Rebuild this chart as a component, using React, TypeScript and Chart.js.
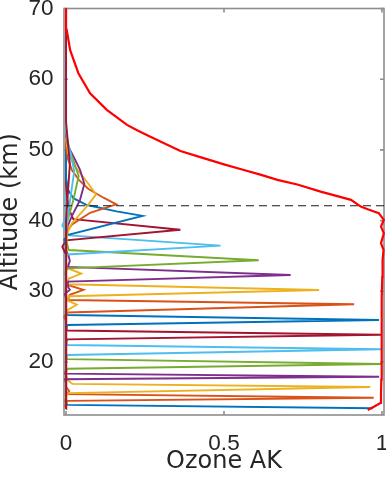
import React, { useEffect, useRef } from "react";
import { Chart, registerables } from "chart.js";

Chart.register(...registerables);

// ---------- axes ----------
const X_MIN = -0.0065;
const X_MAX = 1.0065;
const Y_MIN = 12.5;
const Y_MAX = 70;
const X_TICKS = [0, 0.5, 1];
const X_TICK_LABELS = ["0", "0.5", "1"];
const Y_TICKS = [20, 30, 40, 50, 60, 70];
const Y_TICK_LABELS = ["20", "30", "40", "50", "60", "70"];
const X_TITLE = "Ozone AK";
const Y_TITLE = "Altitude (km)";
const CUTOFF_ALT = 42.1;

const LINE_COLORS = ["#0072BD", "#D95319", "#EDB120", "#7E2F8E", "#77AC30", "#4DBEEE", "#A2142F"];
const TOTAL_COLOR = "#FF0000";
const CUTOFF_COLOR = "#1a1a1a";

// ---------- averaging kernels: [AK, altitude km] ----------
const AK_01 = [[0.972, 13.45], [0.004, 13.93], [-0.004, 14.5], [0, 15.2], [0, 70]];
const AK_02 = [[0, 13.35], [-0.003, 13.9], [0.004, 14.5], [0.974, 14.95], [0.004, 15.45], [0.01, 15.9], [0, 16.5], [0, 70]];
const AK_03 = [[0, 13.35], [-0.003, 15.1], [0.008, 15.6], [0.963, 16.46], [0.02, 16.9], [0.006, 17.4], [0, 18.2], [0, 70]];
const AK_04 = [[0, 13.35], [0, 16.9], [-0.003, 17.55], [0.991, 17.92], [-0.003, 18.35], [0, 19.0], [0, 70]];
const AK_05 = [[0, 13.35], [0, 18.5], [0.003, 19.05], [0.997, 19.72], [0.003, 20.4], [0, 21.0], [0, 70]];
const AK_06 = [[0, 13.35], [0, 20.4], [0.003, 20.99], [0.997, 21.8], [0.003, 22.4], [0, 23.0], [0, 70]];
const AK_07 = [[0, 13.35], [0, 22.6], [0.003, 23.2], [0.997, 23.86], [0.003, 24.45], [0, 25.0], [0, 70]];
const AK_08 = [[0, 13.35], [0, 24.6], [0.004, 25.24], [0.991, 25.94], [0.004, 26.65], [0, 27.3], [0, 70]];
const AK_09 = [[0, 13.35], [0, 25.8], [-0.006, 26.4], [0.004, 27.0], [0.912, 28.16], [0.006, 28.77], [0.012, 29.5], [0.055, 30.2], [0.005, 30.9], [0, 31.6], [0, 70]];
const AK_10 = [[0, 13.35], [0, 26.5], [0.003, 27.3], [0.034, 28.1], [0.004, 28.7], [0.008, 29.3], [0.801, 30.18], [0.006, 31.0], [0.008, 31.8], [0.048, 32.5], [0.003, 33.3], [0, 34.0], [0, 70]];
const AK_11 = [[0, 13.35], [0, 29.0], [-0.004, 29.6], [0.012, 30.2], [0.004, 30.8], [0.006, 31.36], [0.711, 32.3], [0.006, 33.44], [0.012, 34.3], [0.008, 35.0], [0, 35.8], [0, 70]];
const AK_12 = [[0, 13.35], [0, 32.0], [-0.003, 32.6], [0.004, 33.25], [0.61, 34.4], [0.008, 35.84], [0.004, 36.6], [0, 37.5], [0, 70]];
const AK_13 = [[0, 13.35], [0, 34.0], [-0.004, 34.6], [0.004, 35.2], [0.489, 36.46], [0.01, 37.9], [-0.012, 39.3], [0, 40.5], [0, 70]];
const AK_14 = [[0, 13.35], [0, 35.2], [-0.012, 36.3], [0, 37.2], [0.362, 38.7], [0.023, 40.2], [0.01, 41.5], [0.004, 43.0], [0, 45.0], [0, 70]];
const AK_15 = [[0, 13.35], [0, 36.5], [-0.006, 37.3], [0.007, 38.0], [0.242, 40.66], [0.16, 41.3], [0.066, 42.2], [0.023, 43.17], [0.007, 44.3], [0, 46.0], [0, 70]];
const AK_16 = [[0, 13.35], [0, 37.2], [0.002, 38.4], [0.018, 39.4], [0.076, 41.1], [0.159, 42.3], [0.12, 43.2], [0.07, 44.5], [0.04, 45.8], [0.018, 47.2], [0.006, 48.7], [0, 50.5], [0, 70]];
const AK_17 = [[0, 13.35], [0, 36.8], [0.005, 38.3], [0.018, 39.6], [0.066, 42.0], [0.095, 43.7], [0.066, 45.5], [0.029, 47.6], [0.007, 49.5], [0, 51.5], [0, 70]];
const AK_18 = [[0, 13.35], [0, 37.5], [0.003, 39.0], [0.018, 40.6], [0.044, 42.9], [0.058, 45.2], [0.044, 47.2], [0.023, 49.1], [0.007, 50.5], [0, 52.0], [0, 70]];
const AK_19 = [[0, 13.35], [0, 38.0], [0.005, 40.0], [0.023, 42.9], [0.04, 46.3], [0.023, 48.5], [0.007, 50.5], [0, 52.5], [0, 70]];
const AK_20 = [[0, 13.35], [0, 39.0], [0.01, 42.0], [0.026, 47.0], [0.012, 50.0], [0.004, 51.5], [0, 53.0], [0, 70]];
const AK_21 = [[0, 13.35], [0, 40.0], [0.006, 44.0], [0.012, 48.0], [0.006, 51.0], [0, 54.0], [0, 70]];

const KERNELS = [AK_01, AK_02, AK_03, AK_04, AK_05, AK_06, AK_07, AK_08, AK_09, AK_10, AK_11, AK_12, AK_13, AK_14, AK_15, AK_16, AK_17, AK_18, AK_19, AK_20, AK_21];

// ---------- total response (row sum): [AK, altitude km] ----------
const TOTAL_AK = [
  [0.955, 13.2], [0.976, 13.7], [0.995, 14.2], [0.997, 15.5], [0.998, 17.5], [0.999, 20], [0.999, 23], [0.999, 26],
  [1.0, 29], [1.001, 32], [1.002, 34.4], [1.005, 35.85], [0.997, 36.8], [1.006, 38.2], [0.997, 39.15], [1.006, 40.1],
  [0.99, 41.05], [0.955, 41.6], [0.933, 41.98], [0.902, 42.93], [0.806, 44.1], [0.732, 45.1], [0.669, 45.76],
  [0.615, 46.5], [0.56, 47.2], [0.5, 47.95], [0.43, 48.9], [0.362, 49.85], [0.267, 51.87], [0.228, 52.7], [0.193, 53.54],
  [0.129, 55.66], [0.076, 58.0], [0.039, 60.85], [0.013, 64.1], [0.002, 67.0], [0.0, 70],
];

const TICK_FONT = { family: "'Liberation Sans', Arial, sans-serif", size: 22.5, lineHeight: 1.2 };
const TITLE_FONT = { family: "'DejaVu Sans', sans-serif", size: 24, lineHeight: 0.9 };
const TEXT_COLOR = "#262626";
const AXIS_COLOR = "#8e8e8e";

const toPts = (arr: number[][]) => arr.map(([x, y]) => ({ x, y }));

const zeroPad = (s: any) => {
  s.paddingTop = 0;
  s.paddingBottom = 0;
  s.paddingLeft = 0;
  s.paddingRight = 0;
};

const framePlugin = {
  id: "matlabFrame",
  beforeDatasetsDraw(chart: any) {
    const { ctx, chartArea: a, scales } = chart;
    const xs = scales.x;
    const ys = scales.y;
    const tl = 4;
    ctx.save();
    ctx.strokeStyle = AXIS_COLOR;
    ctx.lineWidth = 1.6;
    ctx.strokeRect(a.left, a.top, a.right - a.left, a.bottom - a.top);
    ctx.beginPath();
    xs.ticks.forEach((t: any) => {
      const px = xs.getPixelForValue(t.value);
      ctx.moveTo(px, a.bottom);
      ctx.lineTo(px, a.bottom - tl);
      ctx.moveTo(px, a.top);
      ctx.lineTo(px, a.top + tl);
    });
    ys.ticks.forEach((t: any) => {
      const py = ys.getPixelForValue(t.value);
      ctx.moveTo(a.left, py);
      ctx.lineTo(a.left + tl, py);
      ctx.moveTo(a.right, py);
      ctx.lineTo(a.right - tl, py);
    });
    ctx.stroke();
    ctx.restore();
  },
};

export default function App() {
  const ref = useRef<HTMLCanvasElement | null>(null);

  useEffect(() => {
    document.body.style.margin = "0";
    const canvas = ref.current;
    if (!canvas) return;

    const kernelSets = KERNELS.map((k, i) => ({
      label: `AK ${i + 1}`,
      data: toPts(k),
      borderColor: LINE_COLORS[i % LINE_COLORS.length],
      borderWidth: 1.9,
      showLine: true,
      pointRadius: 0,
      tension: 0,
      clip: 4,
      order: 100 - i,
    }));

    const chart = new Chart(canvas, {
      type: "scatter",
      data: {
        datasets: [
          {
            label: "Total",
            data: toPts(TOTAL_AK),
            borderColor: TOTAL_COLOR,
            borderWidth: 2.2,
            showLine: true,
            pointRadius: 0,
            tension: 0,
            clip: 4,
            order: 0,
          },
          {
            label: "Cutoff",
            data: [{ x: X_MIN, y: CUTOFF_ALT }, { x: X_MAX, y: CUTOFF_ALT }],
            borderColor: CUTOFF_COLOR,
            borderWidth: 1.2,
            borderDash: [8, 5],
            showLine: true,
            pointRadius: 0,
            order: 1,
          },
          ...kernelSets,
        ] as any,
      },
      options: {
        animation: false,
        responsive: false,
        devicePixelRatio: 1,
        layout: { autoPadding: false, padding: { top: 8.5, right: 2, left: 0, bottom: 0 } },
        plugins: { legend: { display: false }, tooltip: { enabled: false } },
        scales: {
          x: {
            type: "linear",
            min: X_MIN,
            max: X_MAX,
            grid: { display: false, drawTicks: false },
            border: { display: false },
            afterBuildTicks: (s: any) => {
              s.ticks = X_TICKS.map((v) => ({ value: v }));
            },
            afterFit: (s: any) => {
              s.height = 69;
              zeroPad(s);
            },
            ticks: {
              color: TEXT_COLOR,
              font: TICK_FONT,
              padding: 15.7,
              maxRotation: 0,
              autoSkip: false,
              callback: (v: any) => {
                const i = X_TICKS.indexOf(Number(v));
                return i >= 0 ? X_TICK_LABELS[i] : "";
              },
            },
            title: {
              display: true,
              text: X_TITLE,
              color: TEXT_COLOR,
              font: TITLE_FONT,
              padding: { top: 0, bottom: 11.5 },
            },
          },
          y: {
            type: "linear",
            min: Y_MIN,
            max: Y_MAX,
            grid: { display: false, drawTicks: false },
            border: { display: false },
            afterBuildTicks: (s: any) => {
              s.ticks = Y_TICKS.map((v) => ({ value: v }));
            },
            afterFit: (s: any) => {
              s.width = 64;
              zeroPad(s);
            },
            ticks: {
              color: TEXT_COLOR,
              font: TICK_FONT,
              padding: 10.5,
              autoSkip: false,
              callback: (v: any) => {
                const i = Y_TICKS.indexOf(Number(v));
                return i >= 0 ? Y_TICK_LABELS[i] : "";
              },
            },
            title: {
              display: true,
              text: Y_TITLE,
              color: TEXT_COLOR,
              font: TITLE_FONT,
              padding: { top: 0, bottom: 0 },
            },
          },
        },
      } as any,
      plugins: [framePlugin],
    });

    return () => chart.destroy();
  }, []);

  return (
    <div style={{ position: "absolute", left: 0, top: 0, width: 386, height: 484, background: "#fff" }}>
      <canvas ref={ref} width={386} height={484} style={{ display: "block", width: 386, height: 484 }} />
    </div>
  );
}
